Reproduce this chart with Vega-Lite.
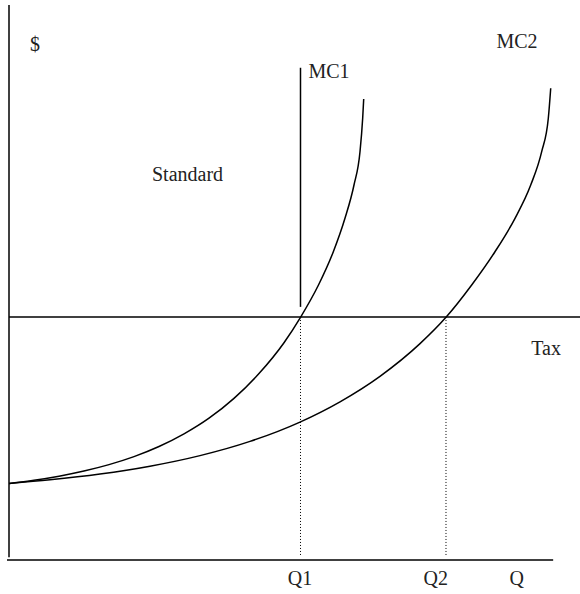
{
  "$schema": "https://vega.github.io/schema/vega-lite/v6.json",
  "width": 571,
  "height": 560,
  "autosize": {"type": "none"},
  "padding": {"left": 9, "top": 0, "right": 0, "bottom": 34},
  "background": "white",
  "config": {"view": {"stroke": null}},
  "datasets": {
    "curves": [
      {"curve": "MC1", "i": 0, "q": 0, "p": 13.66},
      {"curve": "MC1", "i": 1, "q": 4.38, "p": 14.24},
      {"curve": "MC1", "i": 2, "q": 8.76, "p": 14.97},
      {"curve": "MC1", "i": 3, "q": 13.13, "p": 15.89},
      {"curve": "MC1", "i": 4, "q": 17.51, "p": 17.03},
      {"curve": "MC1", "i": 5, "q": 21.89, "p": 18.46},
      {"curve": "MC1", "i": 6, "q": 26.27, "p": 20.26},
      {"curve": "MC1", "i": 7, "q": 30.65, "p": 22.52},
      {"curve": "MC1", "i": 8, "q": 35.03, "p": 25.32},
      {"curve": "MC1", "i": 9, "q": 39.4, "p": 28.86},
      {"curve": "MC1", "i": 10, "q": 43.78, "p": 33.29},
      {"curve": "MC1", "i": 11, "q": 48.16, "p": 38.8},
      {"curve": "MC1", "i": 12, "q": 51.05, "p": 43.34},
      {"curve": "MC1", "i": 13, "q": 54.2, "p": 49.11},
      {"curve": "MC1", "i": 14, "q": 56.8, "p": 55.05},
      {"curve": "MC1", "i": 15, "q": 58.84, "p": 61.02},
      {"curve": "MC1", "i": 16, "q": 60.42, "p": 66.96},
      {"curve": "MC1", "i": 17, "q": 61.47, "p": 72.91},
      {"curve": "MC1", "i": 18, "q": 61.94, "p": 78.88},
      {"curve": "MC1", "i": 19, "q": 62.12, "p": 82.32},
      {"curve": "MC2", "i": 0, "q": 0, "p": 13.66},
      {"curve": "MC2", "i": 1, "q": 7.18, "p": 14.31},
      {"curve": "MC2", "i": 2, "q": 15.94, "p": 15.34},
      {"curve": "MC2", "i": 3, "q": 24.69, "p": 16.75},
      {"curve": "MC2", "i": 4, "q": 33.45, "p": 18.64},
      {"curve": "MC2", "i": 5, "q": 42.21, "p": 21.18},
      {"curve": "MC2", "i": 6, "q": 50.96, "p": 24.63},
      {"curve": "MC2", "i": 7, "q": 57.97, "p": 28.25},
      {"curve": "MC2", "i": 8, "q": 64.97, "p": 32.8},
      {"curve": "MC2", "i": 9, "q": 71.98, "p": 38.64},
      {"curve": "MC2", "i": 10, "q": 76.53, "p": 43.34},
      {"curve": "MC2", "i": 11, "q": 81.03, "p": 49.11},
      {"curve": "MC2", "i": 12, "q": 85.11, "p": 55.05},
      {"curve": "MC2", "i": 13, "q": 88.62, "p": 61.02},
      {"curve": "MC2", "i": 14, "q": 91.37, "p": 66.96},
      {"curve": "MC2", "i": 15, "q": 93.29, "p": 72.91},
      {"curve": "MC2", "i": 16, "q": 94.45, "p": 78.88},
      {"curve": "MC2", "i": 17, "q": 94.87, "p": 84.23}
    ],
    "segments": [
      {"seg": "yaxis", "style": "solid", "q": 0, "p": 0.5, "q2": 0, "p2": 99.1},
      {"seg": "xaxis", "style": "solid", "q": -0.35, "p": 0, "q2": 95.3, "p2": 0},
      {"seg": "tax", "style": "solid", "q": 0, "p": 43.4, "q2": 100, "p2": 43.4},
      {"seg": "standard", "style": "solid", "q": 51.05, "p": 45.2, "q2": 51.05, "p2": 87.9},
      {"seg": "Q1", "style": "dotted", "q": 51.05, "p": 0.9, "q2": 51.05, "p2": 43.4},
      {"seg": "Q2", "style": "dotted", "q": 76.53, "p": 0.9, "q2": 76.53, "p2": 43.4}
    ],
    "labels": [
      {"text": "$", "q": 4.55, "p": 90.9},
      {"text": "MC1", "q": 56.04, "p": 86.0},
      {"text": "MC2", "q": 88.97, "p": 91.4},
      {"text": "Standard", "q": 31.26, "p": 67.68},
      {"text": "Tax", "q": 94.05, "p": 36.6},
      {"text": "Q1", "q": 50.96, "p": -4.46},
      {"text": "Q2", "q": 74.73, "p": -4.46},
      {"text": "Q", "q": 88.91, "p": -4.46}
    ]
  },
  "layer": [
    {
      "data": {"name": "segments"},
      "transform": [{"filter": "datum.style === 'solid'"}],
      "mark": {"type": "rule", "color": "black", "strokeWidth": 1.5},
      "encoding": {
        "x": {"field": "q", "type": "quantitative", "scale": {"domain": [0, 100], "nice": false, "zero": false}, "axis": null},
        "y": {"field": "p", "type": "quantitative", "scale": {"domain": [0, 100], "nice": false, "zero": false}, "axis": null},
        "x2": {"field": "q2"},
        "y2": {"field": "p2"}
      }
    },
    {
      "data": {"name": "segments"},
      "transform": [{"filter": "datum.style === 'dotted'"}],
      "mark": {"type": "rule", "color": "black", "strokeWidth": 1, "strokeDash": [1, 2]},
      "encoding": {
        "x": {"field": "q", "type": "quantitative", "axis": null},
        "y": {"field": "p", "type": "quantitative", "axis": null},
        "x2": {"field": "q2"},
        "y2": {"field": "p2"}
      }
    },
    {
      "data": {"name": "curves"},
      "mark": {"type": "line", "color": "black", "strokeWidth": 1.5, "interpolate": "monotone"},
      "encoding": {
        "x": {"field": "q", "type": "quantitative", "axis": null},
        "y": {"field": "p", "type": "quantitative", "axis": null},
        "detail": {"field": "curve"},
        "order": {"field": "i", "type": "quantitative"}
      }
    },
    {
      "data": {"name": "labels"},
      "mark": {"type": "text", "font": "Liberation Serif", "fontSize": 20, "color": "#222", "align": "center", "baseline": "alphabetic"},
      "encoding": {
        "x": {"field": "q", "type": "quantitative", "axis": null},
        "y": {"field": "p", "type": "quantitative", "axis": null},
        "text": {"field": "text"}
      }
    }
  ]
}
